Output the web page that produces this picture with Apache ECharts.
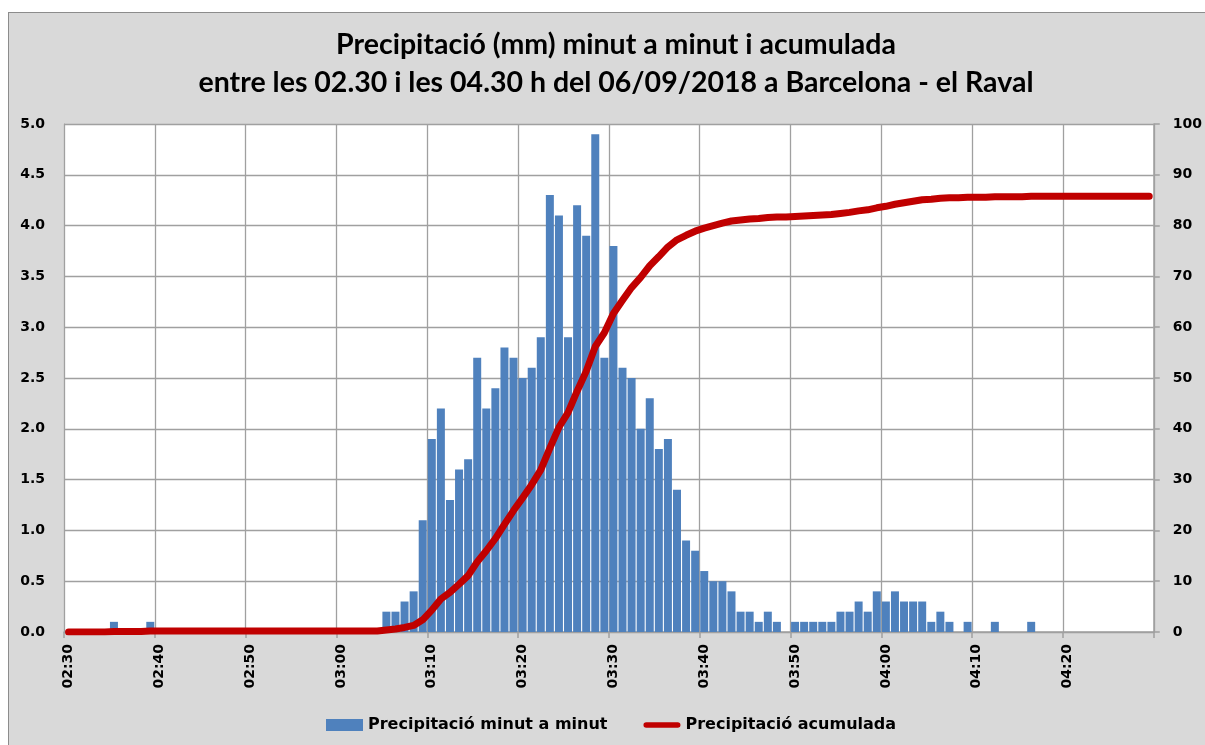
<!DOCTYPE html>
<html><head><meta charset="utf-8">
<script src="https://cdn.jsdelivr.net/npm/echarts@6/dist/echarts.min.js"></script>
<style>
html,body{margin:0;padding:0;background:#fff;}
#frame{position:absolute;left:8px;top:12px;width:1205px;height:745px;background:#d9d9d9;border:1px solid #8c8c8c;box-sizing:border-box;}
#chart{position:absolute;left:0;top:0;width:1205px;height:745px;}
</style></head><body>
<div id="frame"></div><div id="chart"></div>
<script>
const categories = [
 '02:30','02:31','02:32','02:33','02:34','02:35','02:36','02:37','02:38','02:39',
 '02:40','02:41','02:42','02:43','02:44','02:45','02:46','02:47','02:48','02:49',
 '02:50','02:51','02:52','02:53','02:54','02:55','02:56','02:57','02:58','02:59',
 '03:00','03:01','03:02','03:03','03:04','03:05','03:06','03:07','03:08','03:09',
 '03:10','03:11','03:12','03:13','03:14','03:15','03:16','03:17','03:18','03:19',
 '03:20','03:21','03:22','03:23','03:24','03:25','03:26','03:27','03:28','03:29',
 '03:30','03:31','03:32','03:33','03:34','03:35','03:36','03:37','03:38','03:39',
 '03:40','03:41','03:42','03:43','03:44','03:45','03:46','03:47','03:48','03:49',
 '03:50','03:51','03:52','03:53','03:54','03:55','03:56','03:57','03:58','03:59',
 '04:00','04:01','04:02','04:03','04:04','04:05','04:06','04:07','04:08','04:09',
 '04:10','04:11','04:12','04:13','04:14','04:15','04:16','04:17','04:18','04:19',
 '04:20','04:21','04:22','04:23','04:24','04:25','04:26','04:27','04:28','04:29'
];
// Precipitation per minute (mm)
const minuteValues = [
 0,0,0,0,0,0.1,0,0,0,0.1,
 0,0,0,0,0,0,0,0,0,0,
 0,0,0,0,0,0,0,0,0,0,
 0,0,0,0,0,0.2,0.2,0.3,0.4,1.1,
 1.9,2.2,1.3,1.6,1.7,2.7,2.2,2.4,2.8,2.7,
 2.5,2.6,2.9,4.3,4.1,2.9,4.2,3.9,4.9,2.7,
 3.8,2.6,2.5,2.0,2.3,1.8,1.9,1.4,0.9,0.8,
 0.6,0.5,0.5,0.4,0.2,0.2,0.1,0.2,0.1,0,
 0.1,0.1,0.1,0.1,0.1,0.2,0.2,0.3,0.2,0.4,
 0.3,0.4,0.3,0.3,0.3,0.1,0.2,0.1,0,0.1,
 0,0,0.1,0,0,0,0.1,0,0,0,
 0,0,0,0,0,0,0,0,0,0
];
// Accumulated precipitation (mm)
const cumulativeValues = [
 0,0,0,0,0,0.1,0.1,0.1,0.1,0.2,
 0.2,0.2,0.2,0.2,0.2,0.2,0.2,0.2,0.2,0.2,
 0.2,0.2,0.2,0.2,0.2,0.2,0.2,0.2,0.2,0.2,
 0.2,0.2,0.2,0.2,0.2,0.4,0.6,0.9,1.3,2.4,
 4.3,6.5,7.8,9.4,11.1,13.8,16.0,18.4,21.2,23.9,
 26.4,29.0,31.9,36.2,40.3,43.2,47.4,51.3,56.2,58.9,
 62.7,65.3,67.8,69.8,72.1,73.9,75.8,77.2,78.1,78.9,
 79.5,80.0,80.5,80.9,81.1,81.3,81.4,81.6,81.7,81.7,
 81.8,81.9,82.0,82.1,82.2,82.4,82.6,82.9,83.1,83.5,
 83.8,84.2,84.5,84.8,85.1,85.2,85.4,85.5,85.5,85.6,
 85.6,85.6,85.7,85.7,85.7,85.7,85.8,85.8,85.8,85.8,
 85.8,85.8,85.8,85.8,85.8,85.8,85.8,85.8,85.8,85.8
];
const titleLines = ['Precipitació (mm) minut a minut i acumulada','entre les 02.30 i les 04.30 h del 06/09/2018 a Barcelona - el Raval'];
const seriesNames = ['Precipitació minut a minut','Precipitació acumulada'];

const axisFont = {fontFamily:'DejaVu Sans', fontWeight:'bold', fontSize:14, color:'#000'};
const gridColor = '#a0a0a0';
const chart = echarts.init(document.getElementById('chart'), null, {renderer:'canvas'});
chart.setOption({
  backgroundColor:'transparent',
  animation:false,
  title:{
    text: titleLines.join('\n'),
    left: 611, top: 21, textAlign:'center',
    textStyle:{fontFamily:'Lato', fontWeight:'bold', fontSize:28.5, lineHeight:38, color:'#000'}
  },
  grid:{left:64, right:50, top:124, bottom:113, show:true, backgroundColor:'#fff', borderWidth:0},
  legend:{
    left:321, top:712, itemWidth:37, itemHeight:12, itemGap:36,
    textStyle:{fontFamily:'DejaVu Sans', fontWeight:'bold', fontSize:16, color:'#000'},
    data:[
      {name:seriesNames[0], icon:'rect'},
      {name:seriesNames[1], icon:'path://M3,0 L37,0 A3,3 0 0 1 37,6 L3,6 A3,3 0 0 1 3,0 Z', itemStyle:{color:'#c00000'}}
    ]
  },
  xAxis:{
    type:'category', data:categories, boundaryGap:true,
    axisLine:{show:true, lineStyle:{color:gridColor, width:1.5}},
    axisTick:{show:true, interval:9, length:6, lineStyle:{color:gridColor, width:1.5}},
    axisLabel:Object.assign({interval:9, rotate:90, margin:12}, axisFont),
    splitLine:{show:true, interval:9, lineStyle:{color:gridColor, width:1.3}}
  },
  yAxis:[
    {type:'value', min:0, max:5, interval:0.5,
     axisLine:{show:true, lineStyle:{color:gridColor}}, axisTick:{show:false},
     axisLabel:Object.assign({margin:19, formatter:v=>v.toFixed(1)}, axisFont),
     splitLine:{show:true, lineStyle:{color:gridColor, width:1.3}}},
    {type:'value', min:0, max:100, interval:10,
     axisLine:{show:true, lineStyle:{color:gridColor, width:1.5}},
     axisTick:{show:true, length:6, lineStyle:{color:gridColor, width:1.5}},
     axisLabel:Object.assign({margin:19}, axisFont),
     splitLine:{show:false}}
  ],
  series:[
    {name:seriesNames[0], type:'bar', data:minuteValues, yAxisIndex:0, barCategoryGap:'12%',
     itemStyle:{color:'#4f81bd'}},
    {name:seriesNames[1], type:'line', data:cumulativeValues, yAxisIndex:1, symbol:'none', showSymbol:false,
     lineStyle:{color:'#c00000', width:7, cap:'round', join:'round'}, itemStyle:{color:'#c00000'}, z:3}
  ]
});
</script>
</body></html>
